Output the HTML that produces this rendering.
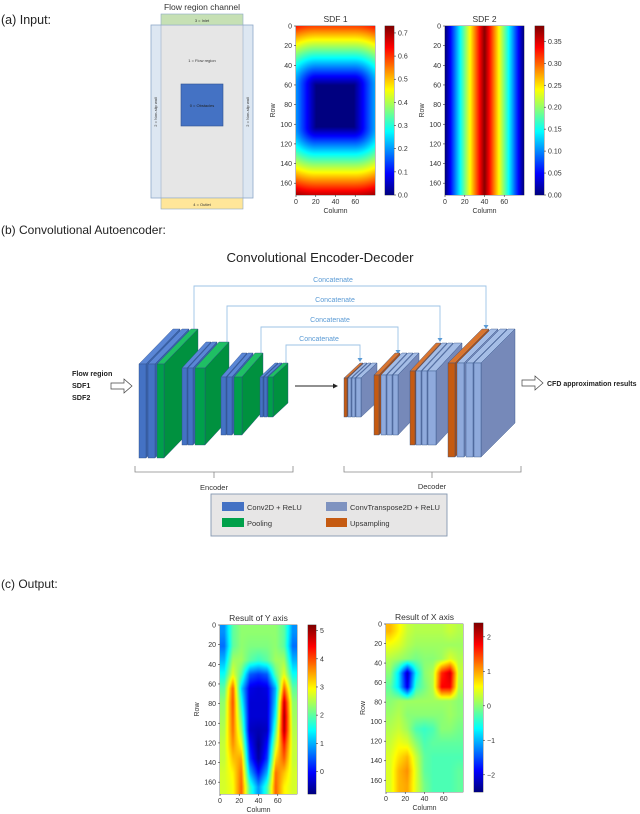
<!DOCTYPE html>
<html><head><meta charset="utf-8">
<style>
html,body{margin:0;padding:0;background:#fff;}
#root{position:relative;width:640px;height:814px;overflow:hidden;font-family:"Liberation Sans",sans-serif;}
#svg{position:absolute;left:0;top:0;}
canvas{position:absolute;image-rendering:auto;}
</style></head>
<body>
<div id="root">
<svg id="svg" width="640" height="814" xmlns="http://www.w3.org/2000/svg" font-family="Liberation Sans, sans-serif">
  <text x="1" y="24" font-size="12.5" fill="#222">(a) Input:</text>
  <text x="1" y="234" font-size="12" fill="#222">(b) Convolutional Autoencoder:</text>
  <text x="1" y="588" font-size="12" fill="#222">(c) Output:</text>

  <g>
    <text x="202" y="10" font-size="8.5" text-anchor="middle" fill="#333">Flow region channel</text>
    <rect x="151" y="25" width="102" height="173" fill="#dde7f2" stroke="#8ea9c8" stroke-width="0.8"/>
    <rect x="161" y="25" width="82" height="173" fill="#e6e6e6" stroke="#9aaec8" stroke-width="0.6"/>
    <rect x="161" y="14" width="82" height="11" fill="#c6e0b4" stroke="#8ea9c8" stroke-width="0.6"/>
    <rect x="161" y="198" width="82" height="11" fill="#ffe699" stroke="#8ea9c8" stroke-width="0.6"/>
    <rect x="181" y="84" width="42" height="42" fill="#4472c4" stroke="#2f528f" stroke-width="0.6"/>
    <text x="202" y="22" font-size="4" text-anchor="middle" fill="#333">3 = Inlet</text>
    <text x="202" y="206" font-size="4" text-anchor="middle" fill="#333">4 = Outlet</text>
    <text x="202" y="62" font-size="4" text-anchor="middle" fill="#333">1 = Flow region</text>
    <text x="202" y="107" font-size="4" text-anchor="middle" fill="#222">0 = Obstacles</text>
    <text transform="translate(157,112) rotate(-90)" font-size="4" text-anchor="middle" fill="#333">2 = Non-slip wall</text>
    <text transform="translate(249,112) rotate(-90)" font-size="4" text-anchor="middle" fill="#333">2 = Non-slip wall</text>
  </g>

  <text x="320" y="262" font-size="13.2" text-anchor="middle" fill="#222">Convolutional Encoder-Decoder</text>
  <g fill="none" stroke="#9dc3e6" stroke-width="0.9">
    <polyline points="194,330 194,286 486,286 486,326"/>
    <polyline points="227,343 227,306 440,306 440,339"/>
    <polyline points="261,355 261,327 398,327 398,351"/>
    <polyline points="286,364 286,345 360,345 360,359"/>
  </g>
  <g fill="#5b9bd5">
    <polygon points="483.5,325 488.5,325 486,329"/>
    <polygon points="437.5,338 442.5,338 440,342"/>
    <polygon points="395.5,350 400.5,350 398,354"/>
    <polygon points="357.5,358 362.5,358 360,362"/>
  </g>
  <g font-size="7" fill="#5b9bd5" text-anchor="middle">
    <text x="333" y="282">Concatenate</text>
    <text x="335" y="302">Concatenate</text>
    <text x="330" y="322">Concatenate</text>
    <text x="319" y="341">Concatenate</text>
  </g>
  <g id="slabs"></g>
  <line x1="295" y1="386" x2="334" y2="386" stroke="#222" stroke-width="0.9"/>
  <polygon points="333,383.5 338,386 333,388.5" fill="#222"/>
  <g font-size="7.2" font-weight="bold" fill="#222">
    <text x="72" y="376">Flow region</text>
    <text x="72" y="388">SDF1</text>
    <text x="72" y="400">SDF2</text>
  </g>
  <polygon points="111,383 124,383 124,379 132,386 124,393 124,389 111,389" fill="#fff" stroke="#444" stroke-width="0.7"/>
  <polygon points="522,380 535,380 535,376 543,383 535,390 535,386 522,386" fill="#fff" stroke="#444" stroke-width="0.7"/>
  <text x="547" y="386" font-size="7" font-weight="bold" fill="#222">CFD approximation results</text>
  <g fill="none" stroke="#888" stroke-width="0.8">
    <polyline points="135,466 135,472 293,472 293,466"/>
    <line x1="214" y1="472" x2="214" y2="478"/>
    <polyline points="344,466 344,472 521,472 521,466"/>
    <line x1="432" y1="472" x2="432" y2="478"/>
  </g>
  <text x="214" y="490" font-size="7.5" text-anchor="middle" fill="#333">Encoder</text>
  <text x="432" y="489" font-size="7.5" text-anchor="middle" fill="#333">Decoder</text>
  <g>
    <rect x="211" y="494" width="236" height="42" fill="#e7e6e6" stroke="#8497b0" stroke-width="0.9"/>
    <rect x="222" y="502" width="22" height="9" fill="#4472c4"/>
    <text x="247" y="510" font-size="7.5" fill="#333">Conv2D + ReLU</text>
    <rect x="222" y="518" width="22" height="9" fill="#00a04a"/>
    <text x="247" y="526" font-size="7.5" fill="#333">Pooling</text>
    <rect x="326" y="502" width="21" height="9" fill="#7f93c0"/>
    <text x="350" y="510" font-size="7.5" fill="#333">ConvTranspose2D + ReLU</text>
    <rect x="326" y="518" width="21" height="9" fill="#c55a11"/>
    <text x="350" y="526" font-size="7.5" fill="#333">Upsampling</text>
  </g>
  <g id="plots"></g>
</svg>
</div>
<script>
var sdf1ObstacleRows = [60, 102];
var sdf1ObstacleCols = [20, 58];
var sdf1Scale = 0.0098;
var sdf2WallCols = [0, 79];
var sdf2Scale = 0.0097;

var resultYGrid = [
 [0.8,2.0,2.3,2.3,2.3,2.3,2.3,2.0,0.8],
 [0.6,2.0,2.3,2.2,2.2,2.2,2.3,2.0,0.6],
 [1.0,2.4,2.4,2.0,1.8,2.0,2.4,2.4,1.0],
 [1.5,2.8,2.0,0.5,0.3,0.5,2.0,2.8,1.5],
 [2.0,3.9,1.2,-0.2,-0.3,-0.2,1.0,3.9,2.0],
 [2.3,4.0,1.6,-0.3,-0.3,-0.3,1.2,4.8,2.3],
 [2.4,3.9,2.0,-0.3,-0.3,-0.3,1.5,5.0,2.4],
 [2.5,3.8,2.4,-0.4,-0.5,-0.4,2.0,4.9,2.5],
 [2.6,3.6,2.9,0.0,-0.7,0.0,2.6,4.3,2.6],
 [2.6,3.3,3.5,0.3,-0.6,0.3,3.2,3.9,2.6],
 [2.7,3.0,3.8,1.0,0.0,1.0,3.8,3.3,2.7],
 [2.7,2.9,3.9,1.8,0.8,1.8,3.9,3.0,2.7]
];
var resultXGrid = [
 [0.9,0.6,0.3,0.2,0.2,0.2,0.2,0.3,0.2],
 [0.5,0.4,0.2,0.1,0.1,0.1,0.1,0.1,0.1],
 [0.2,0.1,0.0,-0.1,0.0,0.0,0.1,0.4,0.2],
 [0.0,-0.8,-2.2,-0.7,0.0,0.2,1.6,2.0,0.3],
 [-0.2,-0.8,-2.0,-0.4,-0.1,0.2,1.8,1.8,0.2],
 [0.0,0.1,0.1,0.1,0.1,0.1,0.1,0.1,0.0],
 [0.1,0.2,0.0,0.0,0.0,0.0,0.0,0.1,0.0],
 [0.2,0.3,0.1,-0.3,-0.4,-0.3,0.0,0.0,-0.1],
 [0.3,0.5,0.4,0.0,-0.3,-0.2,-0.2,-0.2,-0.2],
 [0.4,0.7,0.9,0.3,-0.2,-0.3,-0.3,-0.3,-0.3],
 [0.4,0.9,1.1,0.4,-0.2,-0.3,-0.3,-0.3,-0.2],
 [0.4,0.9,1.0,0.4,-0.1,-0.3,-0.3,-0.3,-0.2]
];
var rowTicks = [0,20,40,60,80,100,120,140,160];
var colTicks = [0,20,40,60];
var sdf1CbarTicks = [0.0,0.1,0.2,0.3,0.4,0.5,0.6,0.7];
var sdf2CbarTicks = [0.00,0.05,0.10,0.15,0.20,0.25,0.30,0.35];
var resYCbarTicks = [0,1,2,3,4,5];
var resXCbarTicks = [-2,-1,0,1,2];

var NS = "http://www.w3.org/2000/svg";
var root = document.getElementById('root');
var plotsG = document.getElementById('plots');

function jet(t){
  t = Math.max(0, Math.min(1, t));
  function c(v){ return Math.round(255*Math.max(0, Math.min(1, v))); }
  return [c(1.5-Math.abs(4*t-3)), c(1.5-Math.abs(4*t-2)), c(1.5-Math.abs(4*t-1))];
}
function svgEl(tag, attrs, parent){
  var e = document.createElementNS(NS, tag);
  for (var k in attrs) e.setAttribute(k, attrs[k]);
  parent.appendChild(e);
  return e;
}
function sampleGrid(grid, fr, fc){
  var rows = grid.length, cols = grid[0].length;
  var gy = Math.max(0, Math.min(rows-1, fr*rows-0.5));
  var gx = Math.max(0, Math.min(cols-1, fc*cols-0.5));
  var r0 = Math.floor(gy), c0 = Math.floor(gx);
  var r1 = Math.min(rows-1, r0+1), c1 = Math.min(cols-1, c0+1);
  var ty = gy-r0, tx = gx-c0;
  var top = grid[r0][c0]*(1-tx) + grid[r0][c1]*tx;
  var bot = grid[r1][c0]*(1-tx) + grid[r1][c1]*tx;
  return top*(1-ty) + bot*ty;
}
function fieldCanvas(grid, vmin, vmax, x, y, w, h, name){
  var R = 172, C = 80;
  var cv = document.createElement('canvas');
  
  
  cv.width = C; cv.height = R;
  cv.style.left = x + 'px'; cv.style.top = y + 'px';
  cv.style.width = w + 'px'; cv.style.height = h + 'px';
  var ctx = cv.getContext('2d');
  var img = ctx.createImageData(C, R);
  for (var r = 0; r < R; r++) for (var c = 0; c < C; c++){
    var v = sampleGrid(grid, (r+0.5)/R, (c+0.5)/C);
    var col = jet((v-vmin)/(vmax-vmin));
    var i = 4*(r*C+c);
    img.data[i]=col[0]; img.data[i+1]=col[1]; img.data[i+2]=col[2]; img.data[i+3]=255;
  }
  ctx.putImageData(img, 0, 0);
  root.appendChild(cv);
}
function colorbar(x, y, w, h, vmin, vmax, ticks, dec, name){
  var cv = document.createElement('canvas');
  
  
  cv.width = 1; cv.height = 200;
  cv.style.left = x + 'px'; cv.style.top = y + 'px';
  cv.style.width = w + 'px'; cv.style.height = h + 'px';
  var ctx = cv.getContext('2d');
  for (var i = 0; i < 200; i++){
    var col = jet(1 - i/199);
    ctx.fillStyle = 'rgb(' + col.join(',') + ')';
    ctx.fillRect(0, i, 1, 1);
  }
  root.appendChild(cv);
  var g = svgEl('g', {}, plotsG);
  
  
  svgEl('rect', {x:x, y:y, width:w, height:h, fill:'none', stroke:'#333', 'stroke-width':0.6}, g);
  ticks.forEach(function(v){
    var ty = y + (vmax - v)/(vmax - vmin)*h;
    svgEl('line', {x1:x+w, y1:ty, x2:x+w+2, y2:ty, stroke:'#333', 'stroke-width':0.6}, g);
    var t = svgEl('text', {x:x+w+4, y:ty+2.5, 'font-size':7, fill:'#333'}, g);
    
    
    t.textContent = (v < 0 ? '\u2212' + Math.abs(v).toFixed(dec) : v.toFixed(dec));
  });
}
function axes(x, y, w, h, title, name){
  var g = svgEl('g', {}, plotsG);
  
  
  svgEl('rect', {x:x, y:y, width:w, height:h, fill:'none', stroke:'#333', 'stroke-width':0.6}, g);
  rowTicks.forEach(function(r){
    var ty = y + r/172*h;
    svgEl('line', {x1:x-2, y1:ty, x2:x, y2:ty, stroke:'#333', 'stroke-width':0.6}, g);
    var t = svgEl('text', {x:x-4, y:ty+2.5, 'font-size':7, fill:'#333', 'text-anchor':'end'}, g);
    
    
    t.textContent = r;
  });
  colTicks.forEach(function(c){
    var tx = x + c/80*w;
    svgEl('line', {x1:tx, y1:y+h, x2:tx, y2:y+h+2, stroke:'#333', 'stroke-width':0.6}, g);
    var t = svgEl('text', {x:tx, y:y+h+9, 'font-size':7, fill:'#333', 'text-anchor':'middle'}, g);
    
    
    t.textContent = c;
  });
  var tt = svgEl('text', {x:x+w/2, y:y-4, 'font-size':8.5, fill:'#333', 'text-anchor':'middle'}, g);
  
  
  tt.textContent = title;
  var xl = svgEl('text', {x:x+w/2, y:y+h+18, 'font-size':7, fill:'#333', 'text-anchor':'middle'}, g);
  
  
  xl.textContent = 'Column';
  var yl = svgEl('text', {transform:'translate(' + (x-21) + ',' + (y+h/2) + ') rotate(-90)', 'font-size':7, fill:'#333', 'text-anchor':'middle'}, g);
  
  
  yl.textContent = 'Row';
}

var sdf1Grid = [], sdf2Grid = [];
for (var r = 0; r < 172; r++){
  var a = [], b = [];
  for (var c = 0; c < 80; c++){
    var dy = Math.max(sdf1ObstacleRows[0]-r, 0, r-sdf1ObstacleRows[1]);
    var dx = Math.max(sdf1ObstacleCols[0]-c, 0, c-sdf1ObstacleCols[1]);
    a.push(Math.sqrt(dx*dx+dy*dy)*sdf1Scale);
    b.push(Math.min(c-sdf2WallCols[0], sdf2WallCols[1]-c)*sdf2Scale);
  }
  sdf1Grid.push(a); sdf2Grid.push(b);
}

fieldCanvas(sdf1Grid, 0, 0.73, 296, 26, 79, 169, 'sdf1-heatmap');
axes(296, 26, 79, 169, 'SDF 1', 'sdf1-axes');
colorbar(385, 26, 9, 169, 0, 0.73, sdf1CbarTicks, 1, 'sdf1-colorbar');

fieldCanvas(sdf2Grid, 0, 0.385, 445, 26, 79, 169, 'sdf2-heatmap');
axes(445, 26, 79, 169, 'SDF 2', 'sdf2-axes');
colorbar(535, 26, 9, 169, 0, 0.385, sdf2CbarTicks, 2, 'sdf2-colorbar');

fieldCanvas(resultYGrid, -0.8, 5.2, 220, 625, 77, 169, 'result-y-heatmap');
axes(220, 625, 77, 169, 'Result of Y axis', 'result-y-axes');
colorbar(308, 625, 8, 169, -0.8, 5.2, resYCbarTicks, 0, 'result-y-colorbar');

fieldCanvas(resultXGrid, -2.5, 2.4, 386, 624, 77, 168, 'result-x-heatmap');
axes(386, 624, 77, 168, 'Result of X axis', 'result-x-axes');
colorbar(474, 623, 9, 169, -2.5, 2.4, resXCbarTicks, 0, 'result-x-colorbar');

var slabG = document.getElementById('slabs');
var PAL = {
  conv: ['#4472c4', '#5a86d6', '#3a63ad'],
  pool: ['#00a04a', '#1fbf64', '#00913f'],
  up:   ['#c55a11', '#d9752f', '#b04f0e'],
  tconv:['#8faadc', '#a5bde6', '#7689b9']
};
function slab(x, y, w, h, dx, dy, kind){
  var p = PAL[kind];
  var g = svgEl('g', {stroke:'#2f4f86', 'stroke-width':0.4}, slabG);
  
  
  svgEl('polygon', {points:[x,y, x+dx,y-dy, x+w+dx,y-dy, x+w,y].join(' '), fill:p[1]}, g);
  svgEl('polygon', {points:[x+w,y, x+w+dx,y-dy, x+w+dx,y+h-dy, x+w,y+h].join(' '), fill:p[2]}, g);
  svgEl('rect', {x:x, y:y, width:w, height:h, fill:p[0]}, g);
}
[[139,7,'conv'],[148,7,'conv'],[157,7,'pool']].forEach(function(s){ slab(s[0],364,s[1],94,34,35,s[2]); });
[[182,5,'conv'],[188,5,'conv'],[195,10,'pool']].forEach(function(s){ slab(s[0],368,s[1],77,24,26,s[2]); });
[[221,5,'conv'],[227,5,'conv'],[234,8,'pool']].forEach(function(s){ slab(s[0],377,s[1],58,21,24,s[2]); });
[[260,3,'conv'],[264,3,'conv'],[268,5,'pool']].forEach(function(s){ slab(s[0],377,s[1],40,15,14,s[2]); });
[[344,3,'up'],[348,3,'tconv'],[352,3,'tconv'],[356,5,'tconv']].forEach(function(s){ slab(s[0],378,s[1],39,16,15,s[2]); });
[[374,5,'up'],[381,5,'tconv'],[387,5,'tconv'],[393,5,'tconv']].forEach(function(s){ slab(s[0],375,s[1],60,21,22,s[2]); });
[[410,5,'up'],[416,5,'tconv'],[422,5,'tconv'],[428,8,'tconv']].forEach(function(s){ slab(s[0],371,s[1],74,26,28,s[2]); });
[[448,7,'up'],[457,7,'tconv'],[466,7,'tconv'],[474,7,'tconv']].forEach(function(s){ slab(s[0],363,s[1],94,34,34,s[2]); });
</script>
</body></html>
